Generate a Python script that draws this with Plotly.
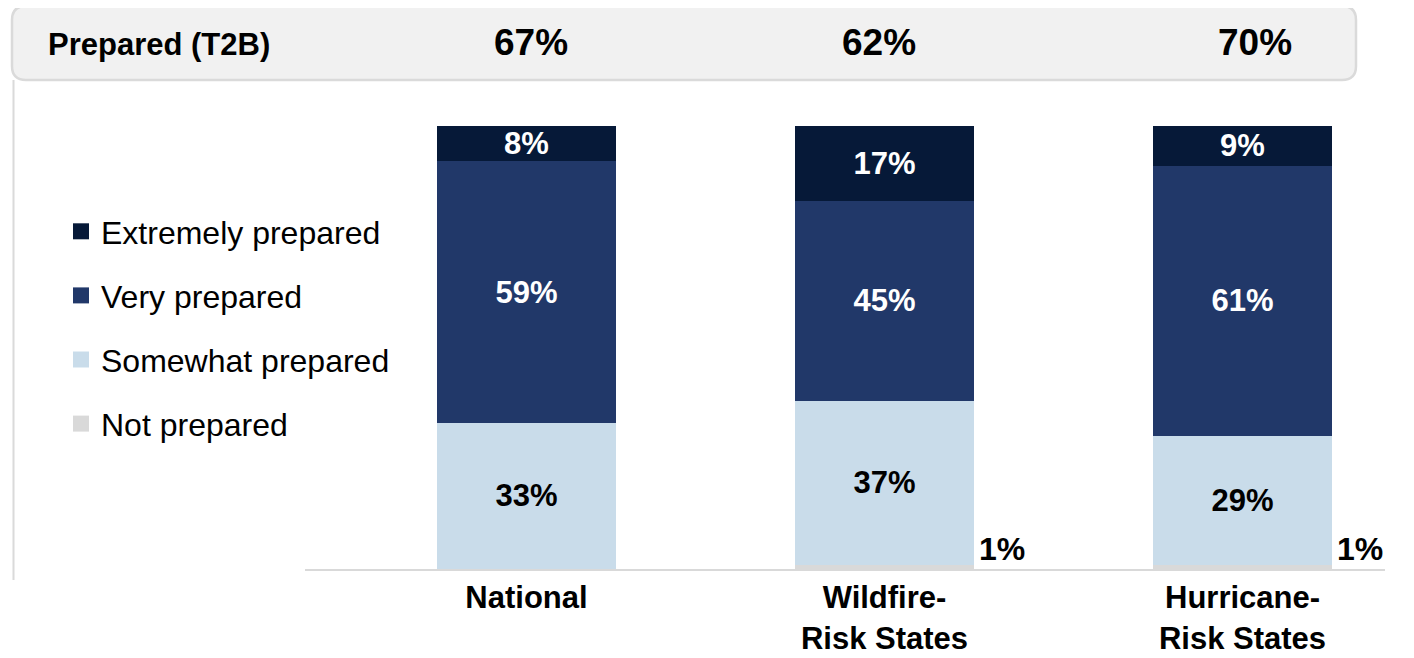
import plotly.graph_objects as go

# ---------------- data ----------------
categories = ["National", "Wildfire-Risk States", "Hurricane-Risk States"]
tick_labels = ["National", "Wildfire-<br>Risk States", "Hurricane-<br>Risk States"]
not_prepared = [0, 1, 1]
somewhat_prepared = [33, 37, 29]
very_prepared = [59, 45, 61]
extremely_prepared = [8, 17, 9]
t2b = [67, 62, 70]
t2b_label = "Prepared (T2B)"

series_names = ["Not prepared", "Somewhat prepared", "Very prepared", "Extremely prepared"]
series_values = [not_prepared, somewhat_prepared, very_prepared, extremely_prepared]
series_colors = ["#D9D9D9", "#C9DCEA", "#213869", "#061938"]
text_colors = ["#000000", "#000000", "#FFFFFF", "#FFFFFF"]

FONT = "Liberation Sans, Arial, sans-serif"
W, H = 1414, 658
OFF = 8  # page body margin offset
ML = 305 - OFF
MT = 126 - OFF
PLOT_BOTTOM = 569 - OFF
PLOT_RIGHT = 1385 - OFF
MB = H - PLOT_BOTTOM
MR = W - PLOT_RIGHT
PW = PLOT_RIGHT - ML
PH = PLOT_BOTTOM - MT


def px_x(p):
    return (p - OFF - ML) / PW


def px_y(p):
    return (PLOT_BOTTOM - (p - OFF)) / PH


fig = go.Figure()
for name, vals, col, tcol in zip(series_names, series_values, series_colors, text_colors):
    show_text = name != "Not prepared"
    fig.add_trace(go.Bar(
        x=categories,
        y=vals,
        name=name,
        showlegend=False,
        marker=dict(color=col, line=dict(width=0)),
        text=[f"{v}%" for v in vals] if show_text else None,
        textposition="inside" if show_text else "none",
        insidetextanchor="middle",
        textangle=0,
        constraintext="none",
        textfont=dict(family=FONT, size=31, color=tcol, weight="bold"),
        hoverinfo="skip",
    ))

# legend entries (square swatches), top to bottom
for name, col in reversed(list(zip(series_names, series_colors))):
    fig.add_trace(go.Scatter(
        x=[None], y=[None], mode="markers", name=name, legendgroup=name,
        marker=dict(symbol="square", size=17, color=col, line=dict(width=0)),
        hoverinfo="skip",
    ))

# rounded header box
x0, x1 = 12, 1356
y0, y1 = 6, 80
r = 14
path = (
    f"M {px_x(x0 + r)},{px_y(y0)} L {px_x(x1 - r)},{px_y(y0)} "
    f"Q {px_x(x1)},{px_y(y0)} {px_x(x1)},{px_y(y0 + r)} "
    f"L {px_x(x1)},{px_y(y1 - r)} Q {px_x(x1)},{px_y(y1)} {px_x(x1 - r)},{px_y(y1)} "
    f"L {px_x(x0 + r)},{px_y(y1)} Q {px_x(x0)},{px_y(y1)} {px_x(x0)},{px_y(y1 - r)} "
    f"L {px_x(x0)},{px_y(y0 + r)} Q {px_x(x0)},{px_y(y0)} {px_x(x0 + r)},{px_y(y0)} Z"
)
shapes = [
    dict(type="path", xref="paper", yref="paper", path=path,
         fillcolor="#F1F1F1", line=dict(color="#DADADA", width=2.5), layer="below"),
    dict(type="line", xref="paper", yref="paper",
         x0=px_x(13.5), x1=px_x(13.5), y0=px_y(80), y1=px_y(580),
         line=dict(color="#DADADA", width=2), layer="below"),
]

annotations = [
    dict(text=t2b_label, xref="paper", yref="paper", x=px_x(46), y=px_y(44),
         xanchor="left", yanchor="middle", showarrow=False,
         font=dict(family=FONT, size=31, color="#000000", weight="bold")),
]
header_shift = [4, -6, 12]
for cat, v, sh in zip(categories, t2b, header_shift):
    annotations.append(dict(
        text=f"{v}%", xref="x", yref="paper", x=cat, y=px_y(43), xshift=sh,
        xanchor="center", yanchor="middle", showarrow=False,
        font=dict(family=FONT, size=37, color="#000000", weight="bold")))

# outside labels for the small "Not prepared" segment
for cat, v in zip(categories, not_prepared):
    if v > 0:
        annotations.append(dict(
            text=f"{v}%", xref="x", yref="y", x=cat, y=0, xshift=92, yshift=20,
            xanchor="left", yanchor="middle", showarrow=False,
            font=dict(family=FONT, size=32, color="#000000", weight="bold")))

fig.update_layout(
    width=W, height=H,
    margin=dict(l=ML, r=MR, t=MT, b=MB, pad=0, autoexpand=False),
    barmode="stack",
    bargap=0.5,
    plot_bgcolor="#FFFFFF",
    paper_bgcolor="#FFFFFF",
    font=dict(family=FONT, color="#000000"),
    showlegend=True,
    legend=dict(
        x=px_x(61), y=px_y(204), xanchor="left", yanchor="top",
        traceorder="grouped", tracegroupgap=19.5,
        font=dict(family=FONT, size=32, color="#000000"),
        bgcolor="rgba(0,0,0,0)", borderwidth=0,
    ),
    xaxis=dict(
        type="category",
        tickmode="array", tickvals=categories, ticktext=tick_labels,
        range=[-0.6187, 2.398],
        showline=True, linecolor="#D9D9D9", linewidth=2,
        showgrid=False, zeroline=False, ticks="",
        automargin=False,
        ticklabelstandoff=0,
        tickfont=dict(family=FONT, size=31, color="#000000", weight="bold"),
        fixedrange=True,
    ),
    yaxis=dict(
        range=[0, 100], visible=False, showgrid=False, zeroline=False,
        fixedrange=True, automargin=False,
    ),
    shapes=shapes,
    annotations=annotations,
)

fig.write_html("out.html")
